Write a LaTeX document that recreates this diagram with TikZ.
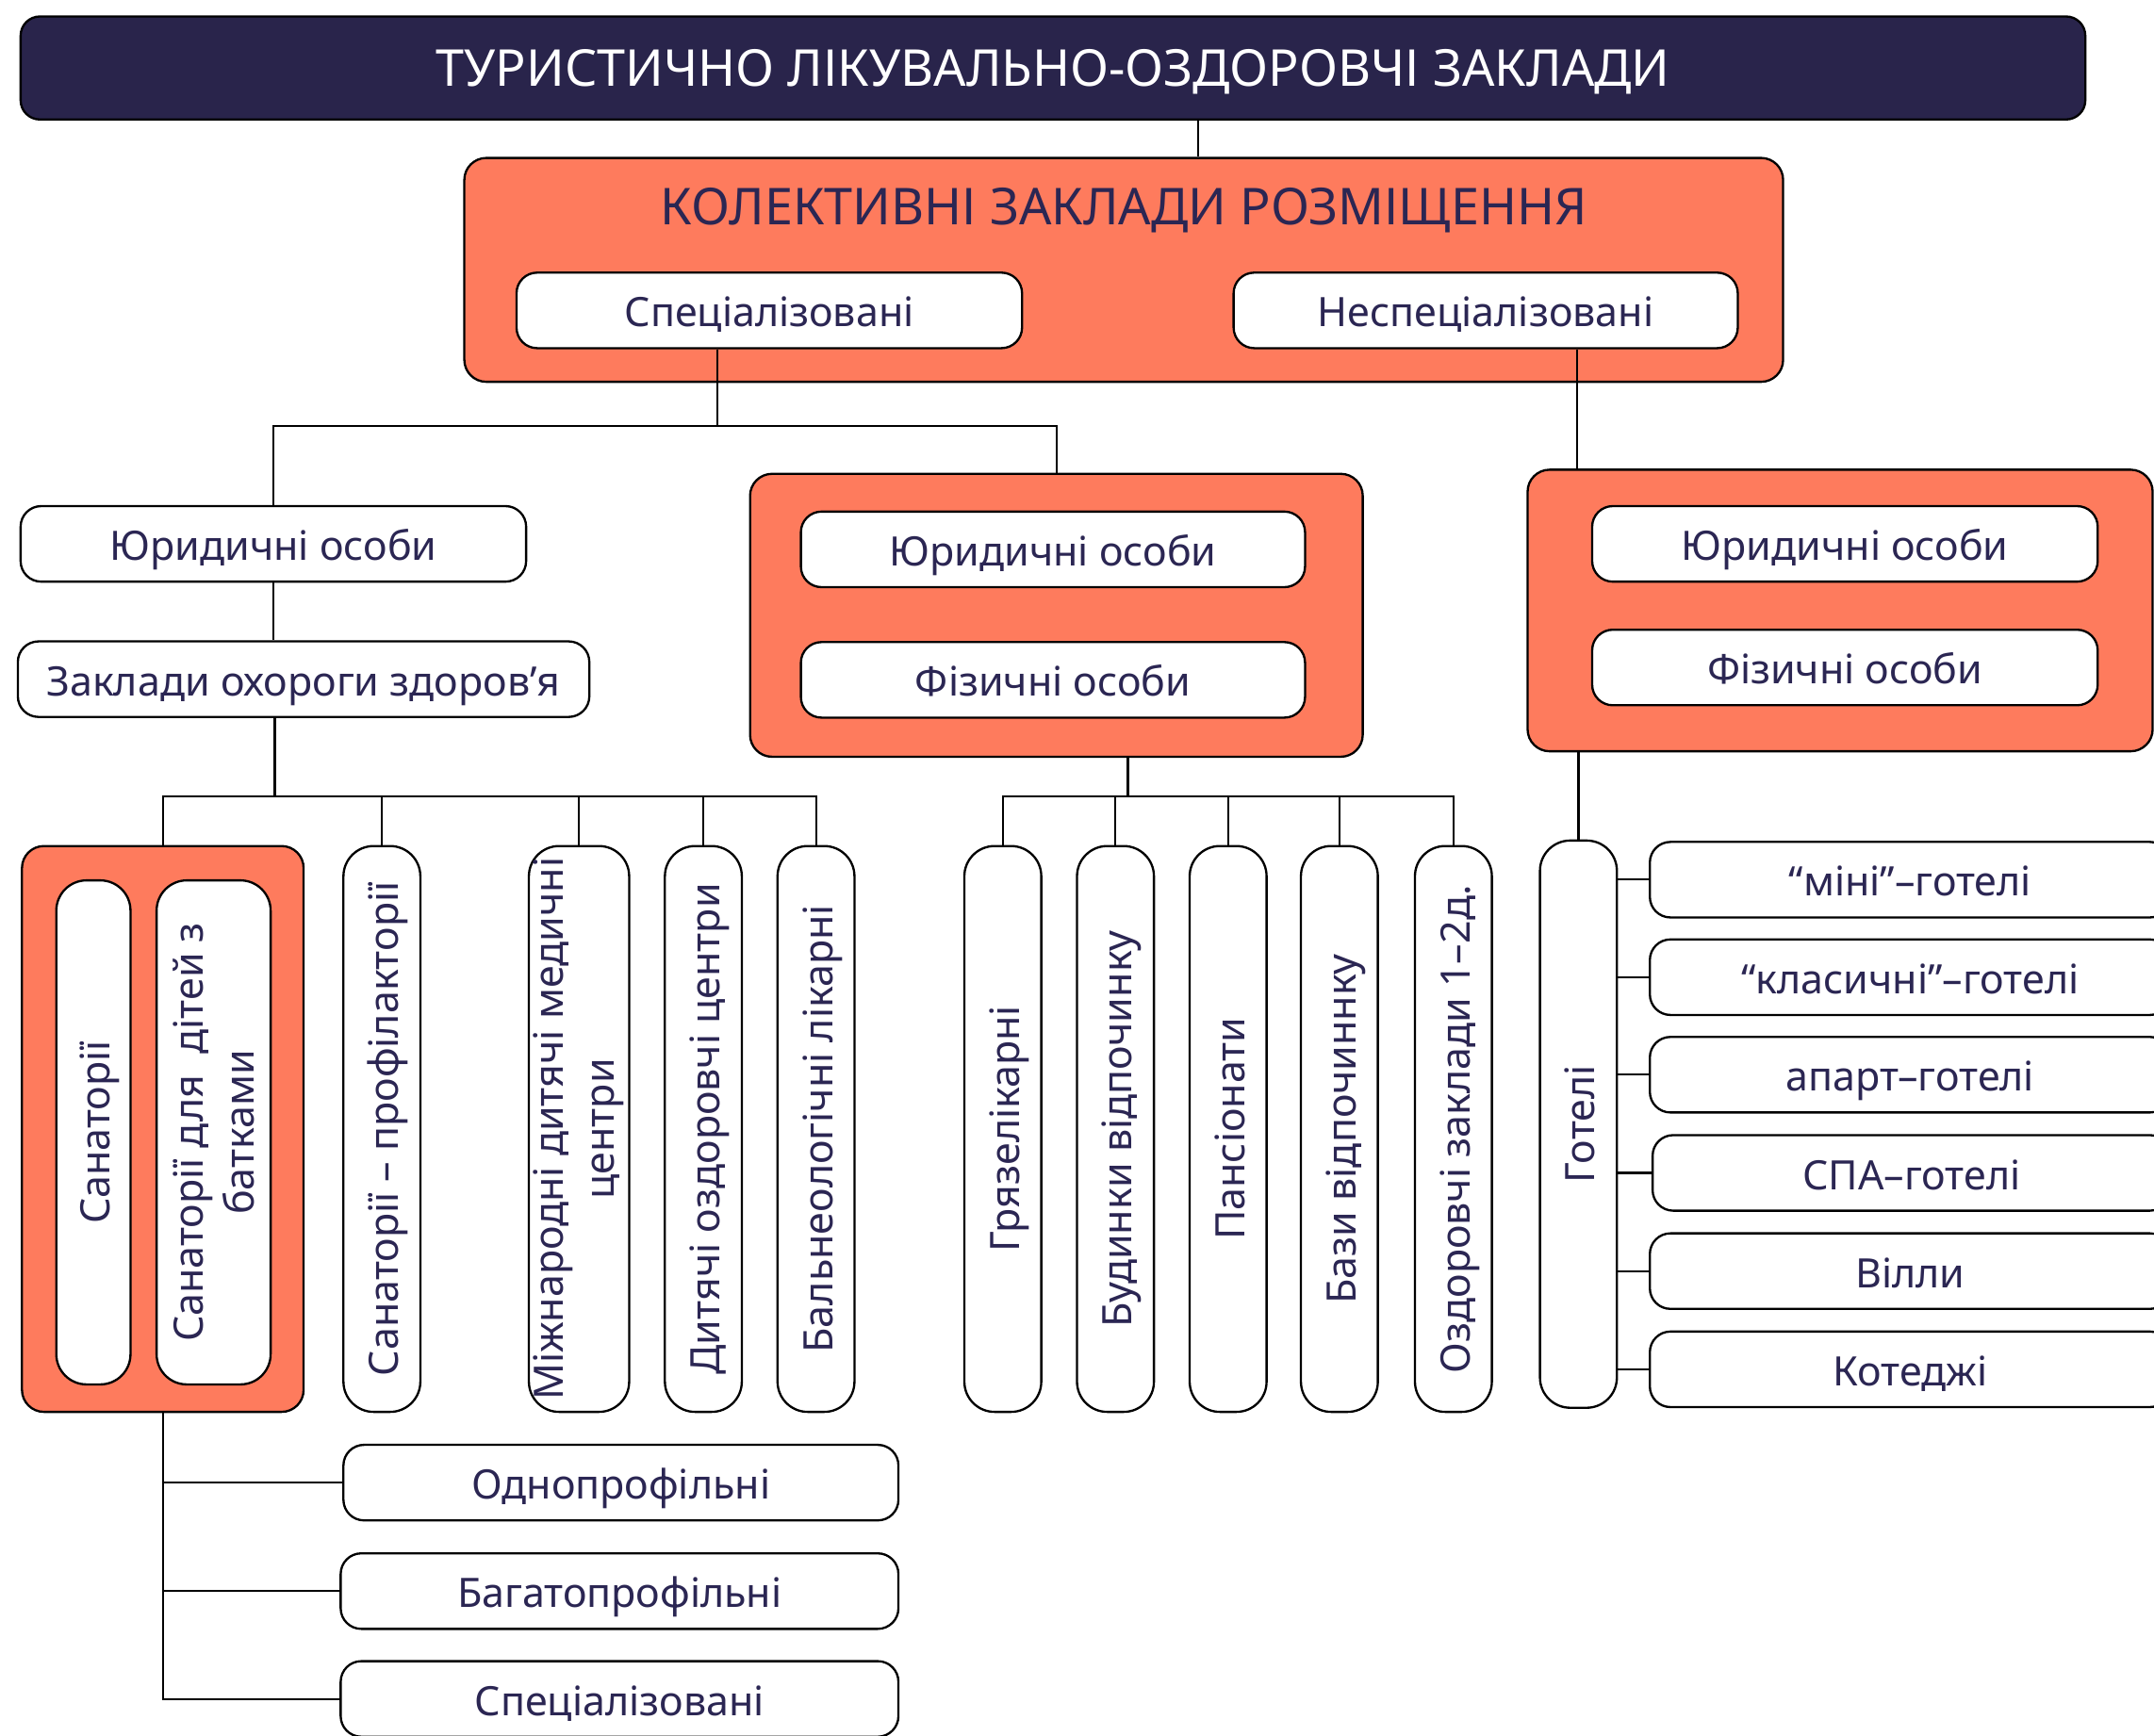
\documentclass[tikz,border=0pt]{standalone}
\usepackage{fontspec}
\setmainfont{Noto Sans}
\definecolor{navy}{HTML}{29244B}
\definecolor{ink}{HTML}{2B2653}
\definecolor{coral}{HTML}{FE7B5D}
\newcommand{\mysz}{\fontsize{29.5}{37}\selectfont}
\newcommand{\bigsz}{\fontsize{37}{44}\selectfont}
\begin{document}
\begin{tikzpicture}[x=1pt,y=-1pt,
  box/.style={draw=black, line width=1.6pt, rounded corners=15pt, fill=white, text=ink,
    inner sep=0pt, font=\mysz, align=center, text height=27pt, text depth=3pt},
  twoline/.style={text height=, text depth=},
  hbox/.style={box, minimum height=55pt},
  vbox/.style={box, rotate=90, minimum width=412pt, minimum height=56pt, rounded corners=22pt},
  cbox/.style={draw=black, line width=1.6pt, rounded corners=16pt, fill=coral, inner sep=0pt},
  conn/.style={draw=black, line width=1.5pt}]
\useasboundingbox (0,0) rectangle (1568,1264);

% title
\node[draw=black, line width=1.6pt, rounded corners=14pt, fill=navy, text=white,
  minimum width=1503pt, minimum height=75pt, inner sep=0pt, font=\bigsz,
  text height=32pt, text depth=5pt] (title) at (766.5,49.5)
  {ТУРИСТИЧНО ЛІКУВАЛЬНО-ОЗДОРОВЧІ ЗАКЛАДИ};

% collective
\node[cbox, minimum width=960pt, minimum height=163pt] (kol) at (818,196.5) {};
\node[text=ink, font=\bigsz, inner sep=0pt, text height=32pt, text depth=5pt] (koltxt) at (818,150) {КОЛЕКТИВНІ ЗАКЛАДИ РОЗМІЩЕННЯ};
\node[hbox, minimum width=368pt] (spec) at (560,226) {Спеціалізовані};
\node[hbox, minimum width=367pt] (nespec) at (1081.5,226) {Неспеціалізовані};

% left branch
\node[hbox, minimum width=368pt] (yur1) at (199,396) {Юридичні особи};
\node[hbox, minimum width=416pt] (zakl) at (221,494.5) {Заклади охороги здоров’я};

% middle container
\node[cbox, minimum width=446pt, minimum height=206pt] (mid) at (769,448) {};
\node[hbox, minimum width=367pt] (yur2) at (766.5,400) {Юридичні особи};
\node[hbox, minimum width=367pt] (fiz2) at (766.5,495) {Фізичні особи};

% right container
\node[cbox, minimum width=455pt, minimum height=205pt] (rbox) at (1339.5,444.5) {};
\node[hbox, minimum width=368pt] (yur3) at (1343,396) {Юридичні особи};
\node[hbox, minimum width=368pt] (fiz3) at (1343,486) {Фізичні особи};

% sanatorium container
\node[cbox, minimum width=205pt, minimum height=412pt] (sanbox) at (118.5,822) {};
\node[vbox, minimum width=367pt, minimum height=54pt] (san) at (68,824.5) {Санаторії};
\node[vbox, twoline, minimum width=367pt, minimum height=83pt] (sandit) at (155.5,824.5) {Санаторії для\ \ дітей з\\батками};

% vertical boxes, left group
\node[vbox] (prof) at (278,822) {Санаторії – профілакторії};
\node[vbox, twoline, minimum height=73pt] (mizh) at (421.5,822) {Міжнародні дитячі медичні\\центри};
\node[vbox] (dyt) at (512,822) {Дитячі оздоровчі центри};
\node[vbox] (bal) at (594,822) {Бальнеологічні лікарні};

% vertical boxes, middle group
\node[vbox] (gr) at (730,822) {Грязелікарні};
\node[vbox] (bud) at (812,822) {Будинки відпочинку};
\node[vbox] (pan) at (894,822) {Пансіонати};
\node[vbox] (baz) at (975,822) {Бази відпочиннку};
\node[vbox] (ozd) at (1058,822) {Оздоровчі заклади 1–2д.};

% hotels
\node[vbox, minimum width=413pt] (got) at (1149,818.5) {Готелі};
\node[hbox, minimum width=379pt] (h1) at (1390.5,640.5) {“міні”–готелі};
\node[hbox, minimum width=379pt] (h2) at (1390.5,711.5) {“класичні”–готелі};
\node[hbox, minimum width=379pt] (h3) at (1390.5,782.5) {апарт–готелі};
\node[hbox, minimum width=377pt] (h4) at (1391.5,854) {СПА–готелі};
\node[hbox, minimum width=379pt] (h5) at (1390.5,925.5) {Вілли};
\node[hbox, minimum width=379pt] (h6) at (1390.5,997) {Котеджі};

% sanatorium profiles
\node[hbox, minimum width=404pt] (odno) at (452,1079.5) {Однопрофільні};
\node[hbox, minimum width=406pt] (bag) at (451,1158.5) {Багатопрофільні};
\node[hbox, minimum width=406pt] (spec2) at (451,1237) {Спеціалізовані};

% connectors
\coordinate (c1) at (872,100);
\draw[conn] (title.south -| c1) -- (kol.north -| c1);
\coordinate (j1) at (522,310);
\draw[conn] (spec.south -| j1) -- (j1);
\draw[conn] (yur1.north) |- (j1) -| (mid.north);
\coordinate (j2) at (1148,300);
\draw[conn] (nespec.south -| j2) -- (rbox.north -| j2);
\draw[conn] (yur1.south) -- (yur1.south |- zakl.north);
\coordinate (j3) at (200,580);
\draw[conn] (j3 |- zakl.south) -- (j3);
\draw[conn] (sanbox.north) -- (sanbox.north |- j3) -- (bal.east |- j3) -- (bal.east);
\draw[conn] (prof.east) -- (prof.east |- j3);
\draw[conn] (mizh.east) -- (mizh.east |- j3);
\draw[conn] (dyt.east) -- (dyt.east |- j3);
\coordinate (j4) at (821,580);
\draw[conn] (mid.south -| j4) -- (j4);
\draw[conn] (gr.east) -- (gr.east |- j4) -- (ozd.east |- j4) -- (ozd.east);
\draw[conn] (bud.east) -- (bud.east |- j4);
\draw[conn] (pan.east) -- (pan.east |- j4);
\draw[conn] (baz.east) -- (baz.east |- j4);
\draw[conn] (rbox.south -| got.east) -- (got.east);
\foreach \h in {h1,h2,h3,h4,h5,h6} \draw[conn] (\h.west -| got.south) -- (\h.west);
\draw[conn] (sanbox.south) |- (spec2.west);
\draw[conn] (sanbox.south |- odno.west) -- (odno.west);
\draw[conn] (sanbox.south |- bag.west) -- (bag.west);
\end{tikzpicture}
\end{document}
